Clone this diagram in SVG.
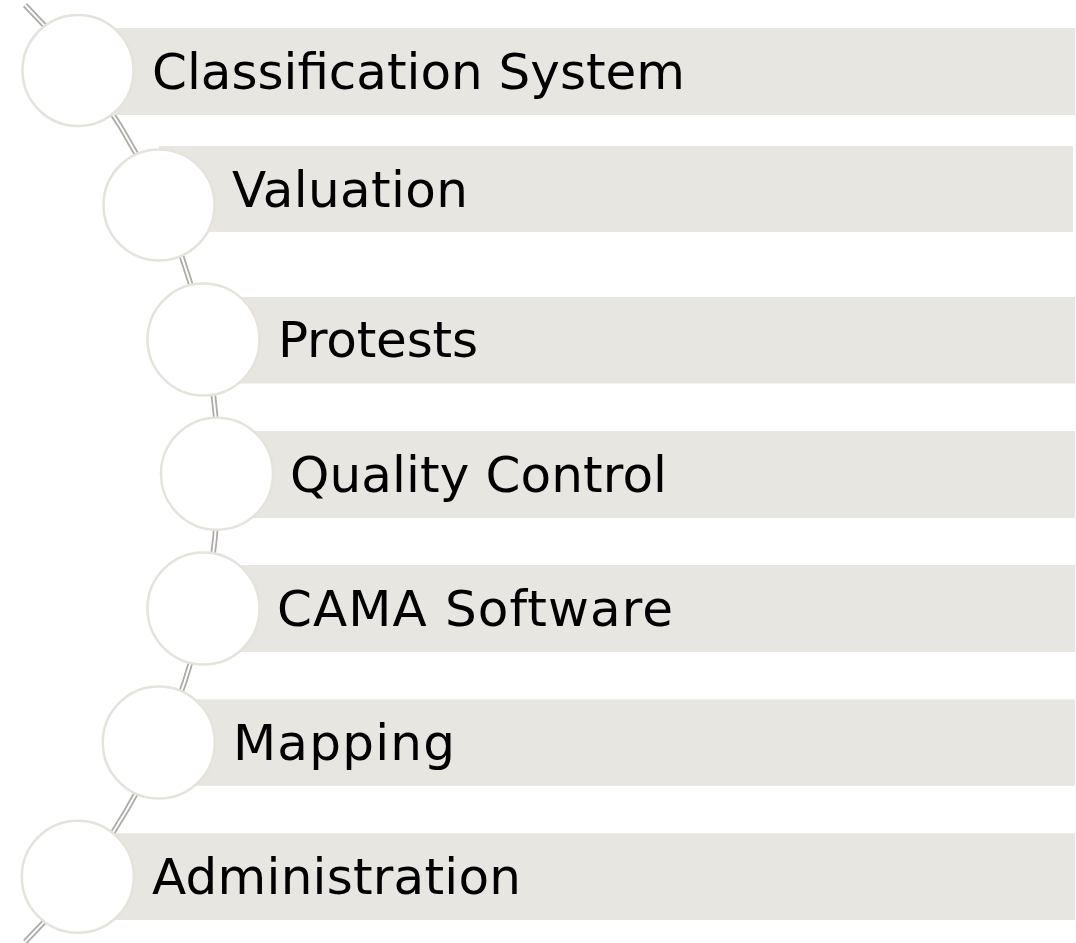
<svg xmlns="http://www.w3.org/2000/svg" width="1076" height="943" viewBox="0 0 1076 943">
<style>
.bar{fill:#e8e6e0}
.node circle{fill:#ffffff;stroke:#e6e3dc;stroke-width:2.5}
.lbl{font-family:"DejaVu Sans",sans-serif;font-size:50px;fill:#000000}
.arc-o{fill:none;stroke:#acaaa5;stroke-width:5.5}
.arc-i{fill:none;stroke:#ffffff;stroke-width:2}
</style>
<rect width="1076" height="943" fill="#ffffff"/>
<g id="connectors">
<path class="arc-o" d="M 25 5 A 665 665 0 0 1 25 942"/>
<path class="arc-i" d="M 25 5 A 665 665 0 0 1 25 942"/>
</g>
<g id="node1" class="node">
<rect class="bar" x="78" y="28" width="997" height="87"/>
<circle cx="78" cy="70.5" r="55.5"/>
<text class="lbl" x="152" y="89" textLength="533">Classification System</text>
</g>
<g id="node2" class="node">
<rect class="bar" x="159" y="146" width="914" height="86"/>
<circle cx="159" cy="205" r="55.5"/>
<text class="lbl" x="232" y="207" textLength="236">Valuation</text>
</g>
<g id="node3" class="node">
<rect class="bar" x="203.5" y="297" width="871.5" height="86.5"/>
<circle cx="203.5" cy="339.5" r="56"/>
<text class="lbl" x="278" y="357" textLength="200">Protests</text>
</g>
<g id="node4" class="node">
<rect class="bar" x="217" y="431" width="858" height="87"/>
<circle cx="217" cy="473.7" r="56"/>
<text class="lbl" x="290" y="492" textLength="377">Quality Control</text>
</g>
<g id="node5" class="node">
<rect class="bar" x="203.5" y="565" width="871.5" height="87"/>
<circle cx="203.5" cy="608.5" r="56"/>
<text class="lbl" x="277" y="626" textLength="396">CAMA Software</text>
</g>
<g id="node6" class="node">
<rect class="bar" x="159" y="699.3" width="916" height="86.5"/>
<circle cx="158.8" cy="742.5" r="56"/>
<text class="lbl" x="233" y="760" textLength="222">Mapping</text>
</g>
<g id="node7" class="node">
<rect class="bar" x="78" y="833.3" width="997" height="86.7"/>
<circle cx="77.8" cy="876.7" r="56"/>
<text class="lbl" x="152" y="894" textLength="369">Administration</text>
</g>
</svg>
